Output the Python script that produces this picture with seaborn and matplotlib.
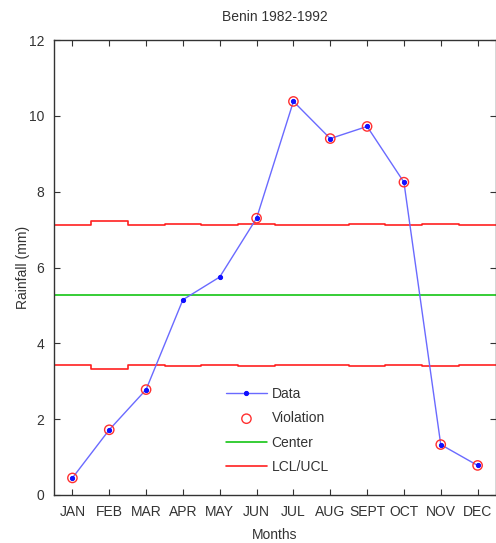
import matplotlib
matplotlib.use("Agg")
import matplotlib.pyplot as plt
import seaborn as sns
import numpy as np
import pandas as pd
from matplotlib import font_manager

months = ["JAN", "FEB", "MAR", "APR", "MAY", "JUN", "JUL", "AUG", "SEPT", "OCT", "NOV", "DEC"]
rainfall = [0.45, 1.72, 2.78, 5.15, 5.75, 7.30, 10.38, 9.40, 9.72, 8.25, 1.33, 0.78]
center = 5.27
ucl = [7.12, 7.22, 7.12, 7.14, 7.12, 7.14, 7.12, 7.12, 7.14, 7.12, 7.14, 7.12]
lcl = [3.42, 3.32, 3.42, 3.40, 3.42, 3.40, 3.42, 3.42, 3.40, 3.42, 3.40, 3.42]

sns.set_style("ticks")
names = {f.name for f in font_manager.fontManager.ttflist}
fam = "Liberation Sans Narrow" if "Liberation Sans Narrow" in names else "Liberation Sans"
plt.rcParams["font.family"] = [fam, "DejaVu Sans"]

fig = plt.figure(figsize=(4.96, 5.43), dpi=100)
ax = fig.add_axes([54 / 496, 48 / 543, (496 - 54) / 496, 455 / 543])

x = np.arange(1, 13)
df = pd.DataFrame({"x": x, "y": rainfall})

# control limits as steps
xe = np.concatenate([[0.5], x, [12.5]])
ucl_e = [ucl[0]] + ucl + [ucl[-1]]
lcl_e = [lcl[0]] + lcl + [lcl[-1]]
ax.plot(xe, ucl_e, drawstyle="steps-mid", color="#ff2020", lw=1.2, zorder=2)
ax.plot(xe, lcl_e, drawstyle="steps-mid", color="#ff2020", lw=1.2, zorder=2, label="LCL/UCL")
ax.plot([0.5, 12.5], [center, center], color="#00c000", lw=1.1, zorder=2, label="Center")

sns.lineplot(data=df, x="x", y="y", ax=ax, color="#6a6aff", lw=1.0, marker=".",
             markersize=6, markerfacecolor="#1010ff", markeredgecolor="#1010ff",
             estimator=None, sort=False, zorder=3, label="Data")

viol = df[(df["y"] > np.array(ucl)) | (df["y"] < np.array(lcl))]
ax.scatter(viol["x"], viol["y"], s=45, facecolors="none", edgecolors="#ff3030",
           linewidths=1.0, zorder=4, label="Violation")

ax.set_xlim(0.5, 12.5)
ax.set_ylim(0, 12)
ax.set_xticks(x)
ax.set_xticklabels(months)
ax.set_yticks(range(0, 13, 2))
ax.tick_params(direction="in", length=4, width=0.8, top=True, right=True,
               labelsize=10, colors="#333333", pad=7)
for s in ax.spines.values():
    s.set_visible(True)
    s.set_color("#333333")
    s.set_linewidth(1.0)

ax.set_title("Benin 1982-1992", fontsize=10, color="#333333", pad=14)
ax.set_xlabel("Months", fontsize=10, color="#333333", labelpad=7)
ax.set_ylabel("Rainfall (mm)", fontsize=10, color="#333333", labelpad=-1)

h, l = ax.get_legend_handles_labels()
order = ["Data", "Violation", "Center", "LCL/UCL"]
hd = dict(zip(l, h))
ax.legend([hd[k] for k in order], order, loc="upper left", bbox_to_anchor=(0.36, 0.265),
          frameon=False, fontsize=10, handlelength=3.0, labelspacing=0.75,
          handletextpad=0.3, labelcolor="#333333")

fig.savefig("out.png", dpi=100)
